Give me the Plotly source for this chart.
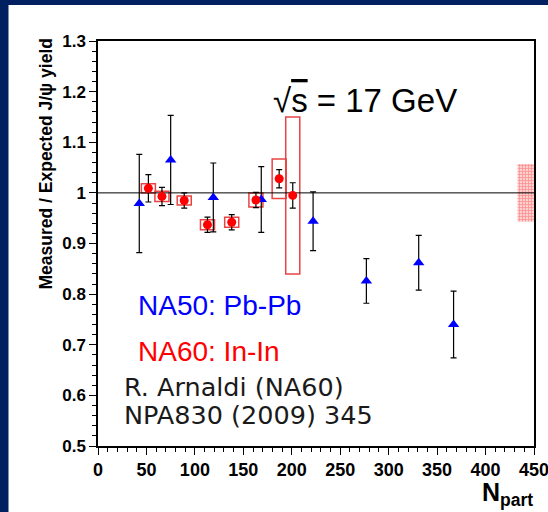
import plotly.graph_objects as go

# NA50 Pb-Pb
na50_npart = [42.6, 75, 119, 168.5, 222, 277, 331, 367]
na50_ratio = [0.979, 1.065, 0.991, 0.987, 0.944, 0.826, 0.862, 0.740]
na50_err = [0.097, 0.088, 0.068, 0.065, 0.058, 0.044, 0.054, 0.066]

# NA60 In-In
na60_npart = [52, 66, 89, 113, 138, 163, 187, 201]
na60_ratio = [1.009, 0.993, 0.985, 0.937, 0.942, 0.986, 1.028, 0.995]
na60_stat = [0.027, 0.018, 0.015, 0.015, 0.015, 0.015, 0.018, 0.025]
na60_syst = [0.009, 0.010, 0.009, 0.010, 0.010, 0.014, 0.039, 0.155]

# global systematic band
global_npart = [441.5]
global_syst = [0.057]

x_ticks = [0, 50, 100, 150, 200, 250, 300, 350, 400, 450]
x_ticktext = ["0", "50", "100", "150", "200", "250", "300", "350", "400", "450"]
y_ticks = [0.5, 0.6, 0.7, 0.8, 0.9, 1.0, 1.1, 1.2, 1.3]
y_ticktext = ["0.5", "0.6", "0.7", "0.8", "0.9", "1", "1.1", "1.2", "1.3"]

NAVY = "#002060"
RED = "#ff0000"
BLUE = "#0000ff"

fig = go.Figure()

# systematic boxes
fig.add_trace(go.Bar(
    x=na60_npart,
    y=[2 * s for s in na60_syst],
    base=[r - s for r, s in zip(na60_ratio, na60_syst)],
    width=14.5,
    marker=dict(color="rgba(0,0,0,0)", line=dict(color="#e84444", width=1.5)),
    showlegend=False, hoverinfo="skip",
))

# global band
fig.add_trace(go.Bar(
    x=global_npart,
    y=[2 * s for s in global_syst],
    base=[1 - s for s in global_syst],
    width=17,
    marker=dict(color="#ffb8b8", line=dict(width=0),
                pattern=dict(shape="+", fgcolor="#ff4040", bgcolor="#ffd0d0",
                             size=3, solidity=0.4)),
    showlegend=False, hoverinfo="skip",
))

# reference line at 1
fig.add_trace(go.Scatter(
    x=[0, 450], y=[1, 1], mode="lines",
    line=dict(color="black", width=1), showlegend=False, hoverinfo="skip",
))

fig.add_trace(go.Scatter(
    x=na50_npart, y=na50_ratio, mode="markers",
    marker=dict(symbol="triangle-up", size=10, color=BLUE),
    error_y=dict(type="data", array=na50_err, color="black", thickness=1.2, width=3),
    showlegend=False,
))

fig.add_trace(go.Scatter(
    x=na60_npart, y=na60_ratio, mode="markers",
    marker=dict(symbol="circle", size=9, color=RED),
    error_y=dict(type="data", array=na60_stat, color="black", thickness=1.2, width=3),
    showlegend=False,
))

L, R, T, B = 98, 14, 41, 66
W, H = 548, 512
pw, ph = W - L - R, H - T - B


def px(xp):
    return (xp - L) / pw


def py(yp):
    return (H - B - yp) / ph


fig.update_layout(
    width=W, height=H,
    margin=dict(l=L, r=R, t=T, b=B, autoexpand=False),
    paper_bgcolor=NAVY,
    plot_bgcolor="white",
    barmode="overlay",
    shapes=[dict(type="rect", xref="paper", yref="paper", layer="below",
                 x0=px(8.5), x1=px(560), y0=py(520), y1=py(5),
                 fillcolor="white", line=dict(width=0))],
    xaxis=dict(
        range=[0, 450], tickvals=x_ticks, ticktext=x_ticktext,
        ticks="outside", ticklen=7, tickwidth=1, tickcolor="black",
        minor=dict(dtick=10, ticks="outside", ticklen=4, tickcolor="black"),
        showline=True, linecolor="black", linewidth=1.5, mirror=True,
        showgrid=False, zeroline=False, ticklabeloverflow="allow", automargin=False,
        tickfont=dict(family="Liberation Sans, Arial", size=18, color="black", weight="bold"),
    ),
    yaxis=dict(
        range=[0.5, 1.3], tickvals=y_ticks, ticktext=y_ticktext,
        ticks="outside", ticklen=7, tickwidth=1, tickcolor="black",
        minor=dict(dtick=0.02, ticks="outside", ticklen=4, tickcolor="black"),
        showline=True, linecolor="black", linewidth=1.5, mirror=True,
        showgrid=False, zeroline=False, automargin=False,
        tickfont=dict(family="Liberation Sans, Arial", size=17, color="black", weight="bold"),
    ),
    annotations=[
        dict(text="Measured / Expected J/ψ yield", xref="paper", yref="paper",
             x=px(46), y=py(37), xanchor="center", yanchor="top", textangle=-90,
             showarrow=False,
             font=dict(family="Liberation Sans, Arial", size=17.5, color="black", weight="bold")),
        dict(text="N<sub>part</sub>", xref="paper", yref="paper",
             x=px(535), y=py(494), xanchor="right", yanchor="middle", showarrow=False,
             font=dict(family="Liberation Sans, Arial", size=25, color="black", weight="bold")),
        dict(text="√<span style='text-decoration:overline'>s</span> = 17 GeV",
             xref="paper", yref="paper", x=px(271), y=py(100),
             xanchor="left", yanchor="middle", showarrow=False,
             font=dict(family="Liberation Sans, Arial", size=33, color="black")),
        dict(text="NA50: Pb-Pb", xref="paper", yref="paper", x=px(136), y=py(305),
             xanchor="left", yanchor="middle", showarrow=False,
             font=dict(family="Liberation Sans, Arial", size=28, color=BLUE)),
        dict(text="NA60: In-In", xref="paper", yref="paper", x=px(136), y=py(351.5),
             xanchor="left", yanchor="middle", showarrow=False,
             font=dict(family="Liberation Sans, Arial", size=28, color=RED)),
        dict(text="R. Arnaldi (NA60)", xref="paper", yref="paper", x=px(122), y=py(387),
             xanchor="left", yanchor="middle", showarrow=False,
             font=dict(family="DejaVu Sans", size=25.5, color="#1a1a1a")),
        dict(text="NPA830 (2009) 345", xref="paper", yref="paper", x=px(122), y=py(415),
             xanchor="left", yanchor="middle", showarrow=False,
             font=dict(family="DejaVu Sans", size=25.5, color="#1a1a1a")),
    ],
)

fig.write_html("out.html")
